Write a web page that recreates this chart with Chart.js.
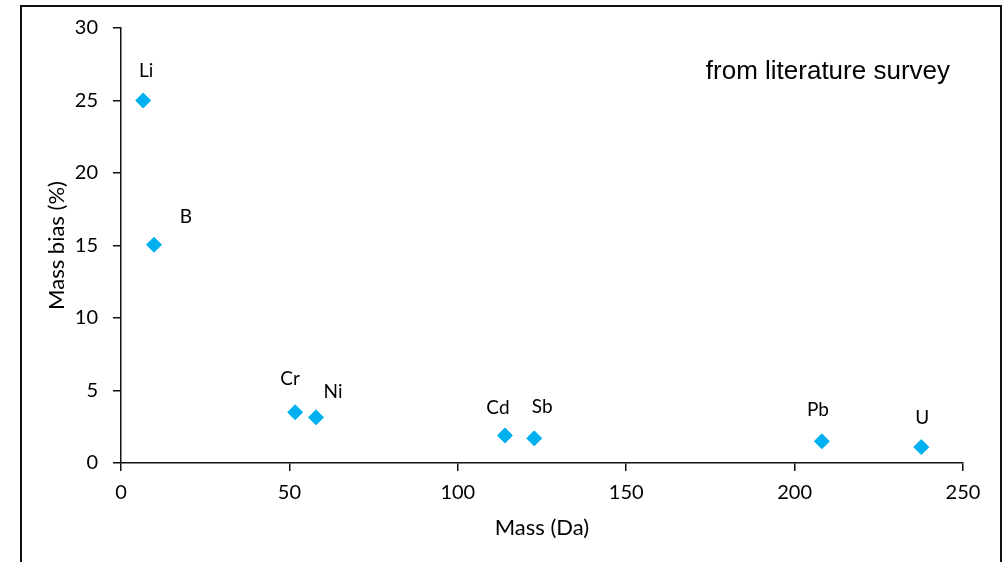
<!DOCTYPE html>
<html>
<head>
<meta charset="utf-8">
<script src="https://cdn.jsdelivr.net/npm/chart.js@4/dist/chart.umd.min.js"></script>
<style>
  html, body { margin: 0; padding: 0; background: #fff; }
  #wrap { position: relative; width: 1007px; height: 562px; overflow: hidden; }
  #frame {
    position: absolute; left: 20px; top: 5px; width: 978px; height: 600px;
    border: 2px solid #111; pointer-events: none;
  }
</style>
</head>
<body>
<div id="wrap">
  <canvas id="massChart" width="1007" height="562"></canvas>
  <div id="frame"></div>
</div>
<script>
// values
const elements = ['Li', 'B', 'Cr', 'Ni', 'Cd', 'Sb', 'Pb', 'U'];
const massDa = [6.6, 9.8, 51.7, 57.9, 114.0, 122.7, 208.1, 237.6];
const massBias = [25.0, 15.05, 3.5, 3.15, 1.9, 1.7, 1.5, 1.1];
const xTicks = [0, 50, 100, 150, 200, 250];
const yTicks = [0, 5, 10, 15, 20, 25, 30];

// where each element label sits relative to its marker (px)
const labelShift = [[3, -30], [32, -28], [-5, -33], [17, -25], [-7, -28], [8, -31], [-4, -31], [1, -29]];

const pointLabels = {
    id: 'pointLabels',
    afterDatasetsDraw(chart) {
        const ctx = chart.ctx;
        const meta = chart.getDatasetMeta(0);
        ctx.save();
        ctx.font = '19px Lato';
        ctx.fillStyle = '#000';
        ctx.textAlign = 'center';
        ctx.textBaseline = 'middle';
        meta.data.forEach((pt, i) => {
            ctx.fillText(elements[i], pt.x + labelShift[i][0], pt.y + labelShift[i][1]);
        });
        // note in upper right corner
        ctx.font = '26px "Liberation Sans", Arial';
        ctx.textAlign = 'right';
        ctx.textBaseline = 'alphabetic';
        ctx.fillText('from literature survey', chart.chartArea.right - 13, 79);
        ctx.restore();
    }
};

const ctx = document.getElementById('massChart').getContext('2d');
new Chart(ctx, {
    type: 'scatter',
    data: {
        datasets: [{
            label: 'Mass bias',
            data: massDa.map((m, i) => ({ x: m, y: massBias[i] })),
            pointStyle: 'rectRot',
            pointRadius: 7.5,
            pointBorderWidth: 1,
            backgroundColor: '#00B0F0',
            borderColor: '#00B0F0'
        }]
    },
    options: {
        responsive: false,
        animation: false,
        events: [],
        layout: { padding: { left: 20, right: 44, top: 28, bottom: 0 } },
        plugins: {
            legend: { display: false },
            tooltip: { enabled: false }
        },
        scales: {
            x: {
                type: 'linear',
                min: 0,
                max: 250,
                afterFit: s => { s.height = 99; },
                afterBuildTicks: s => { s.ticks = xTicks.map(v => ({ value: v })); },
                border: { color: '#111', width: 1.5 },
                grid: { drawOnChartArea: false, drawTicks: true, tickLength: 8, color: '#111', lineWidth: 1.5 },
                ticks: { color: '#000', font: { family: 'Lato', size: 20 }, padding: 10, maxRotation: 0 },
                title: {
                    display: true, text: 'Mass (Da)', color: '#000',
                    font: { family: 'Lato', size: 22 }, padding: { top: 0, bottom: 21 }
                }
            },
            y: {
                type: 'linear',
                min: 0,
                max: 30,
                afterFit: s => { s.width = 101; },
                afterBuildTicks: s => { s.ticks = yTicks.map(v => ({ value: v })); },
                border: { color: '#111', width: 1.5 },
                grid: { drawOnChartArea: false, drawTicks: true, tickLength: 8, color: '#111', lineWidth: 1.5 },
                ticks: { color: '#000', font: { family: 'Lato', size: 20 }, padding: 15 },
                title: {
                    display: true, text: 'Mass bias (%)', color: '#000',
                    font: { family: 'Lato', size: 22 }, padding: { top: 24, bottom: 0 }
                }
            }
        }
    },
    plugins: [pointLabels]
});
</script>
</body>
</html>
